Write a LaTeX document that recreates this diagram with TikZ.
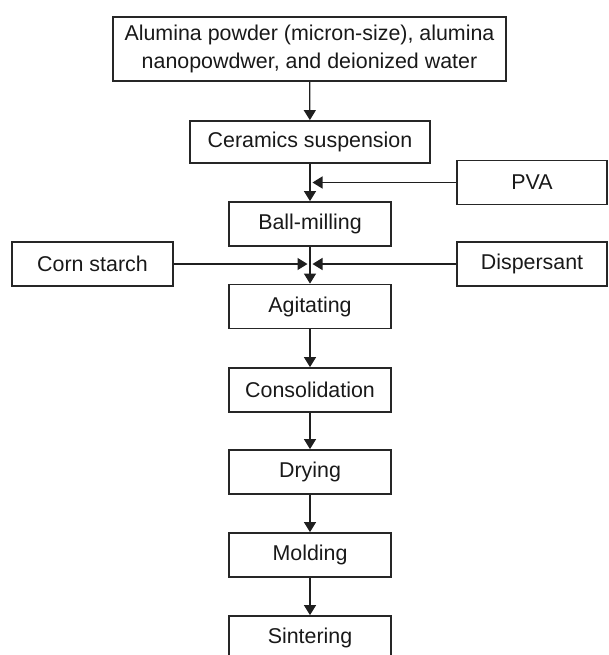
\documentclass[tikz,border=0pt]{standalone}
\usepackage{fontspec}
\setmainfont{Liberation Sans}
\usetikzlibrary{arrows.meta}

\begin{document}
\begin{tikzpicture}[
      x = 0.5pt, y = -0.5pt,
      feed edge/.style={-{Triangle[length=5pt, width=6pt]}, line width=.65pt, black!88},
      stepbox/.style={
        draw = black!85,
        line width = .9pt,
        minimum width = 81pt,
        minimum height = 22pt,
        inner sep = 0pt,
        text = black!90,
        align = center,
        font = \fontsize{10.7}{14}\selectfont,
      },
      rawbox/.style={stepbox, minimum width = 196.5pt, minimum height = 32pt},
      mixbox/.style={stepbox, minimum width = 120pt, minimum height = 21pt},
      additive/.style={stepbox, minimum width = 75pt},
    ]
    \useasboundingbox (0, 0) rectangle (609, 655);

    \node[rawbox] (raw) at (309.5, 49)
      {Alumina powder (micron-size), alumina\\nanopowdwer, and deionized water};
    \node[mixbox] (susp) at (310, 142) {Ceramics suspension};
    \node[additive] (pva) at (532, 182.5) {PVA};
    \node[stepbox] (mill) at (310, 224) {Ball-milling};
    \node[stepbox, minimum width = 80.5pt] (starch) at (92.5, 264) {Corn starch};
    \node[additive] (disp) at (532, 264) {Dispersant};
    \node[stepbox] (agit) at (310, 306.5) {Agitating};
    \node[stepbox] (consol) at (310, 390) {Consolidation};
    \node[stepbox] (dry) at (310, 472) {Drying};
    \node[stepbox] (mold) at (310, 555) {Molding};
    \node[stepbox] (sinter) at (310, 638) {Sintering};

    % additives meet the main line here
    \coordinate (pvain) at (312.5, 182.5);
    \coordinate (starchin) at (307.5, 264);
    \coordinate (dispin) at (312.5, 264);

    \draw[feed edge] (raw) -- (susp);
    \draw[feed edge] (susp) -- (mill);
    \draw[feed edge] (mill) -- (agit);
    \draw[feed edge] (agit) -- (consol);
    \draw[feed edge] (consol) -- (dry);
    \draw[feed edge] (dry) -- (mold);
    \draw[feed edge] (mold) -- (sinter);
    \draw[feed edge] (pva) -- (pvain);
    \draw[feed edge] (starch) -- (starchin);
    \draw[feed edge] (disp) -- (dispin);
  \end{tikzpicture}
\end{document}
